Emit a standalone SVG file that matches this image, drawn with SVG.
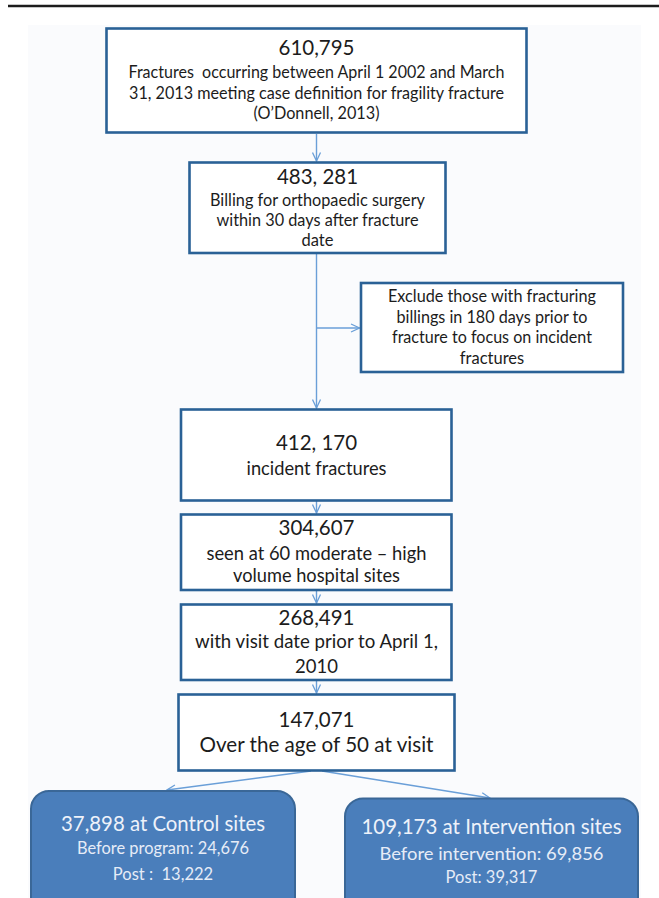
<svg xmlns="http://www.w3.org/2000/svg" width="659" height="898" viewBox="0 0 659 898">
<defs>
<style>
.box{fill:#ffffff;stroke:#2a6196;stroke-width:2.6}
.rbox{fill:#4a7ebb;stroke:#3a6797;stroke-width:2}
.conn{stroke:#6a9fd8;stroke-width:1.4;fill:none}
text{font-family:Lato,"Liberation Sans",sans-serif;fill:#1c1c1c;text-anchor:middle}
.num{font-size:20.5px}
.body{font-size:16.5px}
.body2{font-size:18.5px}
.big{font-size:21px}
.w1{font-size:20.5px;fill:#eef2fa}
.w2{font-size:16.5px;fill:#e6ecf7}
</style>
<marker id="arr" viewBox="0 0 10 10" refX="9.5" refY="5" markerWidth="10" markerHeight="10" markerUnits="userSpaceOnUse" orient="auto">
<path d="M1,1 L9.5,5 L1,9" fill="none" stroke="#6a9fd8" stroke-width="1.3"/>
</marker>
</defs>
<rect x="0" y="0" width="659" height="898" fill="#ffffff"/>
<line x1="8" y1="6" x2="659" y2="6" stroke="#1c1c1c" stroke-width="2.5"/>
<rect x="28" y="25" width="613" height="873" fill="#fafbfd"/>

<g id="connectors">
<line class="conn" x1="316.5" y1="134" x2="316.5" y2="161" marker-end="url(#arr)"/>
<line class="conn" x1="316.5" y1="254" x2="316.5" y2="408" marker-end="url(#arr)"/>
<line class="conn" x1="316.5" y1="328" x2="359.5" y2="328" marker-end="url(#arr)"/>
<line class="conn" x1="316.5" y1="501" x2="316.5" y2="513" marker-end="url(#arr)"/>
<line class="conn" x1="316.5" y1="591" x2="316.5" y2="603" marker-end="url(#arr)"/>
<line class="conn" x1="316.5" y1="681" x2="316.5" y2="693" marker-end="url(#arr)"/>
<line class="conn" x1="311" y1="771" x2="167" y2="790" marker-end="url(#arr)"/>
<line class="conn" x1="322" y1="771" x2="490" y2="798" marker-end="url(#arr)"/>
</g>

<g id="n1">
<rect class="box" x="106.5" y="28.5" width="420" height="104"/>
<text class="num" x="316.5" y="55">610,795</text>
<text class="body" x="316.5" y="78" xml:space="preserve" textLength="376" lengthAdjust="spacingAndGlyphs">Fractures  occurring between April 1 2002 and March</text>
<text class="body" x="316.5" y="98.5" textLength="375" lengthAdjust="spacingAndGlyphs">31, 2013 meeting case definition for fragility fracture</text>
<text class="body" x="316.5" y="118.5" textLength="126" lengthAdjust="spacingAndGlyphs">(O’Donnell, 2013)</text>
</g>

<g id="n2">
<rect class="box" x="189.5" y="162.5" width="256" height="90.5"/>
<text class="num" x="317.5" y="183.5">483, 281</text>
<text class="body" x="317.5" y="206" textLength="215" lengthAdjust="spacingAndGlyphs">Billing for orthopaedic surgery</text>
<text class="body" x="317.5" y="226" textLength="202" lengthAdjust="spacingAndGlyphs">within 30 days after fracture</text>
<text class="body" x="317.5" y="246">date</text>
</g>

<g id="n3">
<rect class="box" x="361" y="283" width="262" height="89"/>
<text class="body" x="492" y="301.5" textLength="208" lengthAdjust="spacingAndGlyphs">Exclude those with fracturing</text>
<text class="body" x="492" y="322.5" textLength="191" lengthAdjust="spacingAndGlyphs">billings in 180 days prior to</text>
<text class="body" x="492" y="343" textLength="200" lengthAdjust="spacingAndGlyphs">fracture to focus on incident</text>
<text class="body" x="492" y="364">fractures</text>
</g>

<g id="n4">
<rect class="box" x="181" y="409.5" width="270.5" height="91"/>
<text class="num" x="316.5" y="450">412, 170</text>
<text class="body2" x="316.5" y="475" textLength="140" lengthAdjust="spacingAndGlyphs">incident fractures</text>
</g>

<g id="n5">
<rect class="box" x="181" y="514.5" width="270.5" height="75.5"/>
<text class="num" x="316.5" y="535">304,607</text>
<text class="body2" x="316.5" y="560" textLength="220" lengthAdjust="spacingAndGlyphs">seen at 60 moderate – high</text>
<text class="body2" x="316.5" y="582" textLength="167" lengthAdjust="spacingAndGlyphs">volume hospital sites</text>
</g>

<g id="n6">
<rect class="box" x="181" y="604.5" width="270.5" height="75.5"/>
<text class="num" x="316.5" y="625">268,491</text>
<text class="body2" x="316.5" y="648" textLength="243" lengthAdjust="spacingAndGlyphs">with visit date prior to April 1,</text>
<text class="body2" x="316.5" y="673">2010</text>
</g>

<g id="n7">
<rect class="box" x="178.5" y="694.5" width="276" height="76"/>
<text class="num" x="316.5" y="727">147,071</text>
<text class="big" x="316.5" y="752" textLength="234" lengthAdjust="spacingAndGlyphs">Over the age of 50 at visit</text>
</g>

<g id="n8">
<rect class="rbox" x="31" y="791" width="264" height="130" rx="18"/>
<text class="w1" x="163" y="831" textLength="204" lengthAdjust="spacingAndGlyphs">37,898 at Control sites</text>
<text class="w2" x="163" y="854" textLength="172" lengthAdjust="spacingAndGlyphs">Before program: 24,676</text>
<text class="w2" x="163" y="880" xml:space="preserve">Post :  13,222</text>
</g>

<g id="n9">
<rect class="rbox" x="345" y="798.5" width="293" height="130" rx="18"/>
<text class="w1" x="491.5" y="834" textLength="260" lengthAdjust="spacingAndGlyphs">109,173 at Intervention sites</text>
<text class="w2" x="491.5" y="860" textLength="224" lengthAdjust="spacingAndGlyphs">Before intervention: 69,856</text>
<text class="w2" x="491.5" y="883">Post: 39,317</text>
</g>
</svg>
